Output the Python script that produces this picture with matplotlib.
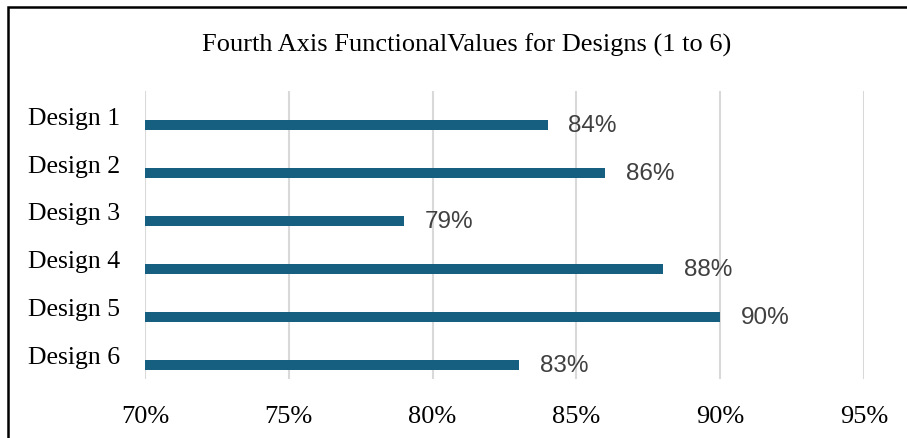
import numpy as np
import matplotlib.pyplot as plt
from matplotlib.patches import Rectangle
from matplotlib.ticker import FuncFormatter

# Daten
designs = ['Design 1', 'Design 2', 'Design 3', 'Design 4', 'Design 5', 'Design 6']
werte = [84, 86, 79, 88, 90, 83]
xticks = [70, 75, 80, 85, 90, 95]

serif = 'Liberation Serif'
sans = 'Liberation Sans'
farbe = '#175f80'

fig = plt.figure(figsize=(9.07, 4.39), dpi=100)
ax = fig.add_axes([145/907, 1-380/439, (864-145)/907, (380-92)/439])

y = np.arange(len(designs))
versatz = 0.21  # Balken etwas unter der Beschriftung
ax.barh(y + versatz, [w - 70 for w in werte], left=70, height=0.21, color=farbe, zorder=3)
for yi, w in zip(y, werte):
    ax.annotate(f'{w}%', (w, yi + versatz), xytext=(15, 0), textcoords='offset points',
                va='center', ha='left', fontsize=17.5, family=sans, color='#404040')

ax.set_xlim(70, 95)
ax.set_ylim(len(designs) - 0.5, -0.5)
ax.set_xticks(xticks)
ax.xaxis.set_major_formatter(FuncFormatter(lambda v, p: f'{v:.0f}%'))
ax.set_yticks(y)
ax.set_yticklabels(designs)
for lab in ax.get_yticklabels():
    lab.set_fontfamily(serif)
    lab.set_fontsize(18.5)
for lab in ax.get_xticklabels():
    lab.set_fontfamily(serif)
    lab.set_fontsize(19)
ax.tick_params(length=0)
ax.tick_params(axis='x', pad=19)
ax.tick_params(axis='y', pad=18)
ax.grid(axis='x', color='#d9d9d9', linewidth=1.5, zorder=0)
for s in ax.spines.values():
    s.set_visible(False)

fig.text(467/907, 1-45/439, 'Fourth Axis FunctionalValues for Designs (1 to 6)',
         ha='center', va='center', fontsize=19, family=serif)

# Rahmen
fig.patches.append(Rectangle((8/907, -0.1), 1.2, 1-8/439+0.1, transform=fig.transFigure,
                             fill=False, edgecolor='black', linewidth=1.8))

fig.savefig('out.png', dpi=100)
